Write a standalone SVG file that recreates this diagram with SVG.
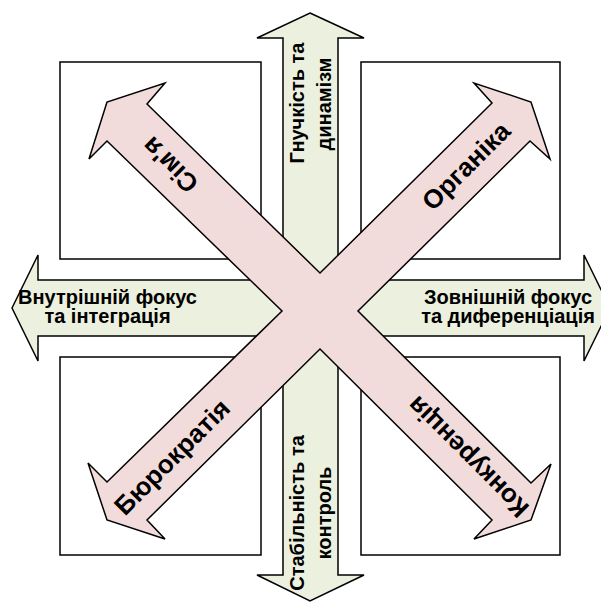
<svg xmlns="http://www.w3.org/2000/svg" width="601" height="602" viewBox="0 0 601 602">
  <style>
    .quad { fill: #ffffff; stroke: #000000; stroke-width: 1.5; }
    .axis { fill: #ebf1de; stroke: #000000; stroke-width: 1.5; stroke-linejoin: miter; }
    .cross { fill: #f2dcdb; stroke: #000000; stroke-width: 1.5; stroke-linejoin: miter; }
    text { font-family: "Liberation Sans", Arial, sans-serif; font-weight: bold; fill: #000000; }
    .axis-label { font-size: 20px; }
    .culture-label { font-size: 26px; }
  </style>
  <rect width="601" height="602" fill="#ffffff"/>

  <!-- quadrant frames -->
  <g id="quadrants">
    <rect id="quad-tl" class="quad" x="60" y="62" width="201" height="197"/>
    <rect id="quad-tr" class="quad" x="361" y="62" width="199" height="197"/>
    <rect id="quad-bl" class="quad" x="60" y="357" width="201" height="198"/>
    <rect id="quad-br" class="quad" x="361" y="357" width="199" height="198"/>
  </g>

  <!-- connectors: the two axis arrows and the diagonal cross -->
  <g id="connectors">
    <g id="axis-vertical">
      <polygon class="axis" points="310,13 364,38 338,38 338,575 364,575 310,601 257,575 283,575 283,38 257,38"/>
      <text class="axis-label" transform="translate(304,103) rotate(-90)" text-anchor="middle">Гнучкість та</text>
      <text class="axis-label" transform="translate(331,104) rotate(-90)" text-anchor="middle">динамізм</text>
      <text class="axis-label" transform="translate(304,513) rotate(-90)" text-anchor="middle">Стабільність та</text>
      <text class="axis-label" transform="translate(331,513) rotate(-90)" text-anchor="middle">контроль</text>
    </g>
    <g id="axis-horizontal">
      <polygon class="axis" points="12,308 38,255 38,280 584,280 584,255 610,308 584,361 584,336 38,336 38,361"/>
      <text class="axis-label" x="107.5" y="304" text-anchor="middle">Внутрішній фокус</text>
      <text class="axis-label" x="107.5" y="323" text-anchor="middle">та інтеграція</text>
      <text class="axis-label" x="508" y="304" text-anchor="middle">Зовнішній фокус</text>
      <text class="axis-label" x="508" y="323" text-anchor="middle">та диференціація</text>
    </g>
    <g id="culture-cross">
      <polygon class="cross" points="320,273 492,103 474,83 531,102 550,159 530,141 358,311 531,483 551,464 531,520 474,539 492,520 320,349 147,520 165,539 107,520 88,463 107,482 282,311 107,141 89,159 107,102 165,83 147,104"/>
    </g>
  </g>

  <!-- culture types along the diagonals -->
  <g id="node-family">
    <text class="culture-label" transform="translate(170,165) rotate(-135)" text-anchor="middle" y="9">Сім'я</text>
  </g>
  <g id="node-organic">
    <text class="culture-label" transform="translate(466,166) rotate(-45)" text-anchor="middle" y="9">Органіка</text>
  </g>
  <g id="node-bureaucracy">
    <text class="culture-label" transform="translate(172,457) rotate(-45)" text-anchor="middle" y="9">Бюрократія</text>
  </g>
  <g id="node-competition">
    <text class="culture-label" transform="translate(468,457) rotate(-135)" text-anchor="middle" y="9">Конкуренція</text>
  </g>
</svg>
